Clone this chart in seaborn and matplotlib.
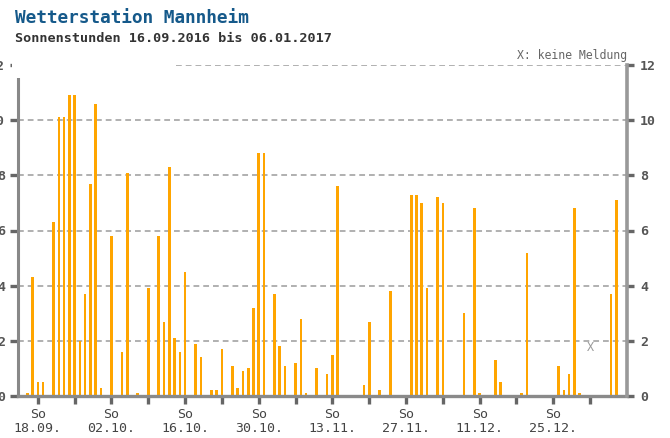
import matplotlib
matplotlib.use("Agg")
import matplotlib.pyplot as plt
import matplotlib.patches as mpatches
import seaborn as sns
import pandas as pd
import numpy as np

# ---- data -------------------------------------------------------------
# daily sunshine hours, 16.09.2016 (day 0) .. 06.01.2017 (day 112)
sun_hours = [
    0.1, 4.3, 0.5, 0.5, 0.0, 6.3, 10.1, 10.1, 10.9, 10.9,   # 0-9
    2.0, 3.7, 7.7, 10.6, 0.3, 0.0, 5.8, 0.0, 1.6, 8.1,      # 10-19
    0.0, 0.1, 0.0, 3.9, 0.0, 5.8, 2.7, 8.3, 2.1, 1.6,       # 20-29
    4.5, 0.0, 1.9, 1.4, 0.0, 0.2, 0.2, 1.7, 0.0, 1.1,       # 30-39
    0.3, 0.9, 1.0, 3.2, 8.8, 8.8, 0.0, 3.7, 1.8, 1.1,       # 40-49
    0.0, 1.2, 2.8, 0.1, 0.0, 1.0, 0.0, 0.8, 1.5, 7.6,       # 50-59
    0.0, 0.0, 0.0, 0.0, 0.4, 2.7, 0.0, 0.2, 0.0, 3.8,       # 60-69
    0.0, 0.0, 0.0, 7.3, 7.3, 7.0, 3.9, 0.0, 7.2, 7.0,       # 70-79
    0.0, 0.0, 0.0, 3.0, 0.0, 6.8, 0.1, 0.0, 0.0, 1.3,       # 80-89
    0.5, 0.0, 0.0, 0.0, 0.1, 5.2, 0.0, 0.0, 0.0, 0.0,       # 90-99
    0.0, 1.1, 0.2, 0.8, 6.8, 0.1, 0.0, None, 0.0, 0.0,      # 100-109
    0.0, 3.7, 7.1,                                          # 110-112
]
missing_days = [107]          # "X: keine Meldung"
missing_marker_y = 1.75

week_ticks = [2, 9, 16, 23, 30, 37, 44, 51, 58, 65, 72, 79, 86, 93, 100, 107]
week_labels = ["So\n18.09.", "", "So\n02.10.", "", "So\n16.10.", "",
               "So\n30.10.", "", "So\n13.11.", "", "So\n27.11.", "",
               "So\n11.12.", "", "So\n25.12.", ""]
y_ticks = [0, 2, 4, 6, 8, 10, 12]

title = "Wetterstation Mannheim"
subtitle = "Sonnenstunden 16.09.2016 bis 06.01.2017"
note = "X: keine Meldung"

# ---- styling ----------------------------------------------------------
sns.set_style("white")
plt.rcParams["font.family"] = ["DejaVu Sans Mono", "DejaVu Sans"]

W, H = 670, 438
fig = plt.figure(figsize=(W / 100, H / 100), dpi=100)
fig.patch.set_facecolor("white")

ax_left_px, ax_right_px = 18, 627
ax_bottom_px, ax_top_px = 396, 65
ax = fig.add_axes([ax_left_px / W, 1 - ax_bottom_px / H,
                   (ax_right_px - ax_left_px) / W,
                   (ax_bottom_px - ax_top_px) / H])
ax.set_facecolor("white")

df = pd.DataFrame({"day": np.arange(len(sun_hours)),
                   "hours": pd.to_numeric(pd.Series(sun_hours), errors="coerce")})

sns.barplot(data=df, x="day", y="hours", native_scale=True, color="#FFA500",
            width=0.5, errorbar=None, linewidth=0, saturation=1, ax=ax)

# gridlines
grid_kw = dict(color="#aaaaaa", lw=1.3, linestyle=(0, (3.2, 2.2)), zorder=0)
for v in y_ticks[1:-1]:
    ax.axhline(v, **grid_kw)
ax.axhline(12, xmin=(176 - ax_left_px) / (ax_right_px - ax_left_px), **grid_kw)

# missing marker
for d in missing_days:
    ax.text(d, missing_marker_y, "X", ha="center", va="center",
            fontsize=8.5, color="#999999")

# limits
px_per_day = 5.26
x0 = -(27.3 - ax_left_px) / px_per_day
x1 = x0 + (ax_right_px - ax_left_px) / px_per_day
ax.set_xlim(x0, x1)
ax.set_ylim(0, 12)

# spines
ax.spines["top"].set_visible(False)
ax.spines["right"].set_visible(False)
ax.spines["left"].set_color("#888888")
ax.spines["left"].set_linewidth(2.2)
ax.spines["left"].set_bounds(0, 11.5)
ax.spines["bottom"].set_color("#8a8a8a")
ax.spines["bottom"].set_linewidth(2.4)

# x ticks
ax.set_xticks(week_ticks)
ax.set_xticklabels(week_labels, fontsize=9.5, color="#444444",
                   linespacing=1.15)
ax.tick_params(axis="x", length=5.5, width=2.4, color="#666666",
               pad=3, direction="out", bottom=True)
ax.set_xlabel("")
ax.set_ylabel("")

# left y ticks (labels clipped by figure edge, as in the reference)
ax.set_yticks(y_ticks)
ax.set_yticklabels([str(v) for v in y_ticks], fontsize=9.5,
                   fontweight="bold", color="#555555")
ax.tick_params(axis="y", length=5.8, width=2.4, color="#666666",
               pad=3.6, direction="out", left=True)

# right axis
axr = ax.twinx()
axr.set_ylim(0, 12)
axr.set_yticks(y_ticks)
axr.set_yticklabels([str(v) for v in y_ticks], fontsize=9.5,
                    fontweight="bold", color="#555555")
axr.tick_params(axis="y", length=5.0, width=2.4, color="#666666",
                pad=4.5, direction="out", right=True)
for s in ["top", "left", "bottom"]:
    axr.spines[s].set_visible(False)
axr.spines["right"].set_color("#999999")
axr.spines["right"].set_linewidth(2.6)
axr.set_ylabel("")

# titles
fig.text(15 / W, 1 - 18 / H, title, fontsize=12.8, fontweight="bold",
         color="#15598a", ha="left", va="center")
fig.text(15 / W, 1 - 39 / H, subtitle, fontsize=9.7, fontweight="bold",
         color="#333333", ha="left", va="center")
fig.text(ax_right_px / W, 1 - 55 / H, note, fontsize=8.3,
         color="#666666", ha="right", va="center")

# white panel that clips the subtitle bottom (as in reference)
fig.patches.append(mpatches.Rectangle((12 / W, 1 - 78 / H), (176 - 12) / W,
                                      (78 - 42.5) / H, transform=fig.transFigure,
                                      facecolor="white", edgecolor="none",
                                      zorder=5))

fig.savefig("out.png", dpi=100)
